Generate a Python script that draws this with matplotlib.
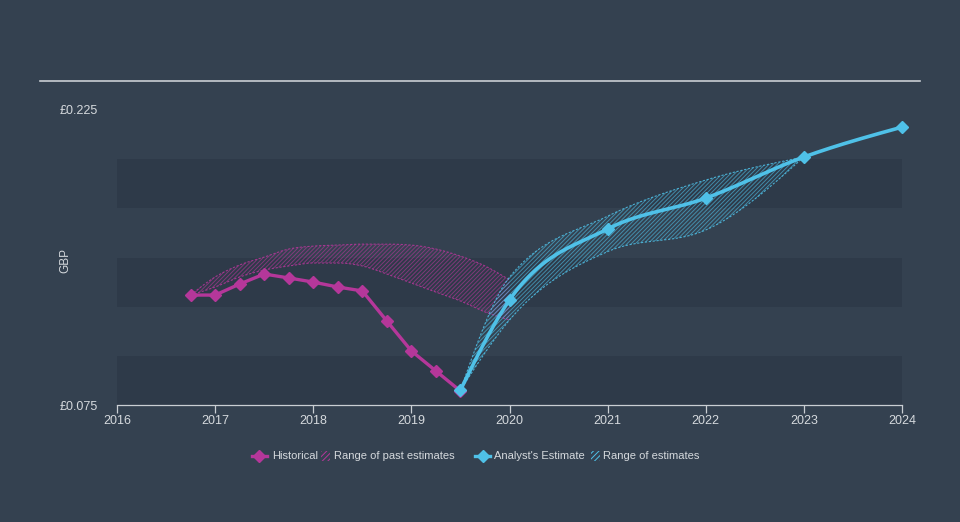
import numpy as np
import matplotlib.pyplot as plt
from matplotlib.lines import Line2D
from matplotlib.patches import Rectangle

plt.rcParams['font.family'] = ['Liberation Sans', 'DejaVu Sans']
plt.rcParams['hatch.linewidth'] = 0.7

# historical EPS (quarterly)
hist_years = [2016.75, 2017.0, 2017.25, 2017.5, 2017.75, 2018.0,
              2018.25, 2018.5, 2018.75, 2019.0, 2019.25, 2019.5]
hist_eps = [0.1309, 0.1309, 0.1365, 0.1416, 0.1396, 0.1375,
            0.1350, 0.1330, 0.1177, 0.1025, 0.0923, 0.0821]

# range of past estimates
past_years = [2016.75, 2017.0, 2017.25, 2017.5, 2017.75, 2018.0, 2018.25,
              2018.5, 2018.75, 2019.0, 2019.25, 2019.5, 2019.75, 2020.0]
past_hi = [0.1309, 0.1401, 0.1462, 0.1502, 0.1543, 0.1558, 0.1563,
           0.1568, 0.1568, 0.1563, 0.1543, 0.1507, 0.1457, 0.1386]
past_lo = [0.1309, 0.1350, 0.1401, 0.1436, 0.1457, 0.1472, 0.1472,
           0.1457, 0.1416, 0.1370, 0.1324, 0.1279, 0.1223, 0.1182]

# analyst estimate
fc_years = [2019.5, 2020, 2021, 2022, 2023, 2024]
fc_eps = [0.0826, 0.1284, 0.1645, 0.1802, 0.2011, 0.2163]

# range of estimates
rng_years = [2019.5, 2020, 2021, 2022, 2023]
rng_hi = [0.0826, 0.1400, 0.1710, 0.1894, 0.2011]
rng_lo = [0.0826, 0.1182, 0.1530, 0.1640, 0.2011]

x_ticks = [2016, 2017, 2018, 2019, 2020, 2021, 2022, 2023, 2024]
y_ticks = [0.075, 0.225]
y_labels = ['£0.075', '£0.225']

BG = '#344150'
BAND = '#2e3a49'
MAGENTA = '#b5379a'
CYAN = '#4fc1e8'
TXT = '#d5d9dd'


def monotone(x, y, n=60):
    # d3-like monotoneX curve for drawing
    x = np.asarray(x, float)
    y = np.asarray(y, float)
    h = np.diff(x)
    s = np.diff(y) / h
    m = np.zeros_like(x)
    for k in range(1, len(x) - 1):
        p = (s[k - 1] * h[k] + s[k] * h[k - 1]) / (h[k - 1] + h[k])
        m[k] = (np.sign(s[k - 1]) + np.sign(s[k])) * min(abs(s[k - 1]), abs(s[k]), 0.5 * abs(p))
    m[0] = (3 * s[0] - m[1]) / 2 if len(x) > 2 else s[0]
    m[-1] = (3 * s[-1] - m[-2]) / 2 if len(x) > 2 else s[-1]
    xs, ys = [], []
    for k in range(len(x) - 1):
        t = np.linspace(0, 1, n)
        h00 = 2 * t**3 - 3 * t**2 + 1
        h10 = t**3 - 2 * t**2 + t
        h01 = -2 * t**3 + 3 * t**2
        h11 = t**3 - t**2
        xs.append(x[k] + t * h[k])
        ys.append(h00 * y[k] + h10 * h[k] * m[k] + h01 * y[k + 1] + h11 * h[k] * m[k + 1])
    return np.concatenate(xs), np.concatenate(ys)


fig = plt.figure(figsize=(9.6, 5.22), dpi=100)
fig.patch.set_facecolor(BG)
ax = fig.add_axes([117 / 960, 1 - 405 / 522, 785 / 960, 295 / 522])
ax.set_facecolor(BG)
ax.set_xlim(2016, 2024)
ax.set_ylim(0.075, 0.225)

for lo in [0.075, 0.125, 0.175]:
    ax.axhspan(lo, lo + 0.025, color=BAND, lw=0, zorder=0)

# past estimates range
px, phi = monotone(past_years, past_hi)
_, plo = monotone(past_years, past_lo)
ax.fill_between(px, plo, phi, facecolor='none', edgecolor=MAGENTA, hatch='////////',
                lw=0, alpha=0.6, zorder=2)
ax.plot(px, phi, color=MAGENTA, lw=0.8, ls=(0, (2, 1.5)), alpha=0.85, zorder=2)
ax.plot(px, plo, color=MAGENTA, lw=0.8, ls=(0, (2, 1.5)), alpha=0.85, zorder=2)

# estimates range
rx, rhi = monotone(rng_years, rng_hi)
_, rlo = monotone(rng_years, rng_lo)
ax.fill_between(rx, rlo, rhi, facecolor='none', edgecolor=CYAN, hatch='////////',
                lw=0, alpha=0.6, zorder=3)
ax.plot(rx, rhi, color=CYAN, lw=0.8, ls=(0, (2, 1.5)), alpha=0.85, zorder=3)
ax.plot(rx, rlo, color=CYAN, lw=0.8, ls=(0, (2, 1.5)), alpha=0.85, zorder=3)

# historical line
ax.plot(hist_years, hist_eps, color=MAGENTA, lw=2.4, marker='D', ms=6,
        zorder=4, clip_on=False)

# forecast line
fx, fy = monotone(fc_years, fc_eps)
ax.plot(fx, fy, color=CYAN, lw=2.6, zorder=5, clip_on=False)
ax.plot(fc_years, fc_eps, ls='none', color=CYAN, marker='D', ms=6,
        zorder=6, clip_on=False)

for side in ['top', 'right', 'left']:
    ax.spines[side].set_visible(False)
ax.spines['bottom'].set_color('#c9ced3')
ax.spines['bottom'].set_linewidth(0.9)

ax.set_xticks(x_ticks)
ax.set_xticklabels([str(t) for t in x_ticks])
ax.tick_params(axis='x', colors='#c9ced3', labelcolor=TXT, labelsize=9,
               length=6, width=0.9, pad=1)
ax.set_yticks(y_ticks)
ax.set_yticklabels(y_labels)
ax.tick_params(axis='y', length=0, labelcolor=TXT, labelsize=9, pad=41)
for lbl in ax.get_yticklabels():
    lbl.set_horizontalalignment('left')
ax.set_ylabel('GBP', color=TXT, fontsize=8.5)
ax.yaxis.set_label_coords(-0.058, 0.49)

# top rule
fig.add_artist(Line2D([40 / 960, 920 / 960], [1 - 81 / 522] * 2,
                      color='#c9ced3', lw=1.2, transform=fig.transFigure))

# legend
ly = 1 - 456 / 522


def fx_(px_):
    return px_ / 960


fig.add_artist(Line2D([fx_(252), fx_(267)], [ly, ly], color=MAGENTA, lw=2.4,
                      transform=fig.transFigure))
fig.add_artist(Line2D([fx_(259)], [ly], color=MAGENTA, marker='D', ms=6,
                      transform=fig.transFigure))
fig.text(fx_(272), ly, 'Historical', color=TXT, fontsize=8, va='center')
fig.add_artist(Rectangle((fx_(321), ly - 5 / 522), 9 / 960, 10 / 522,
                         facecolor='none', edgecolor=MAGENTA, hatch='//////', lw=0,
                         transform=fig.transFigure))
fig.text(fx_(334), ly, 'Range of past estimates', color=TXT, fontsize=8, va='center')

fig.add_artist(Line2D([fx_(475), fx_(490)], [ly, ly], color=CYAN, lw=2.4,
                      transform=fig.transFigure))
fig.add_artist(Line2D([fx_(483)], [ly], color=CYAN, marker='D', ms=6,
                      transform=fig.transFigure))
fig.text(fx_(494), ly, "Analyst's Estimate", color=TXT, fontsize=8, va='center')
fig.add_artist(Rectangle((fx_(591), ly - 5 / 522), 9 / 960, 10 / 522,
                         facecolor='none', edgecolor=CYAN, hatch='//////', lw=0,
                         transform=fig.transFigure))
fig.text(fx_(603), ly, 'Range of estimates', color=TXT, fontsize=8, va='center')

fig.savefig('out.png', dpi=100, facecolor=BG)
